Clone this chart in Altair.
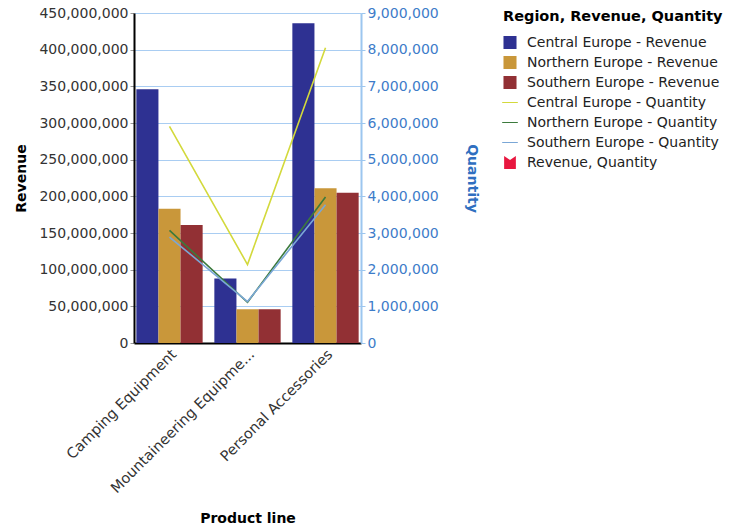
import altair as alt
import pandas as pd

# ---------------- data ----------------
products = ["Camping Equipment", "Mountaineering Equipment", "Personal Accessories"]
regions = ["Central Europe", "Northern Europe", "Southern Europe"]

revenue_central = [346_000_000, 88_000_000, 436_000_000]
revenue_northern = [183_000_000, 46_000_000, 211_000_000]
revenue_southern = [161_000_000, 46_000_000, 205_000_000]

quantity_central = [5_910_000, 2_140_000, 8_050_000]
quantity_northern = [3_070_000, 1_110_000, 3_980_000]
quantity_southern = [2_890_000, 1_130_000, 3_770_000]

series_names = [
    "Central Europe - Revenue",
    "Northern Europe - Revenue",
    "Southern Europe - Revenue",
    "Central Europe - Quantity",
    "Northern Europe - Quantity",
    "Southern Europe - Quantity",
    "Revenue, Quantity",
]
series_colors = ["#2e3192", "#c9973a", "#923034", "#d3d93c", "#3b7a3c", "#7aa7d6", "#e8173f"]

SQUARE = "M-1,-1H1V1H-1Z"
LINE = "M-1.2,-0.08H1.2V0.08H-1.2Z"
RIBBON = "M-0.9,-1L0,-0.4L0.9,-1V1H-0.9Z"
series_shapes = [SQUARE, SQUARE, SQUARE, LINE, LINE, LINE, RIBBON]

revenue_by_region = [revenue_central, revenue_northern, revenue_southern]
quantity_by_region = [quantity_central, quantity_northern, quantity_southern]

rev_rows, qty_rows = [], []
for r, region in enumerate(regions):
    for p, product in enumerate(products):
        rev_rows.append({"product": product, "region": region,
                         "series": f"{region} - Revenue", "revenue": revenue_by_region[r][p]})
        qty_rows.append({"product": product, "region": region,
                         "series": f"{region} - Quantity", "quantity": quantity_by_region[r][p]})
rev_df = pd.DataFrame(rev_rows)
qty_df = pd.DataFrame(qty_rows)
legend_df = pd.DataFrame({"series": series_names})

FONT = "DejaVu Sans"
color_scale = alt.Scale(domain=series_names, range=series_colors)
shape_scale = alt.Scale(domain=series_names, range=series_shapes)

x_enc = alt.X(
    "product:N",
    sort=products,
    scale=alt.Scale(paddingInner=0.15, paddingOuter=0.03),
    axis=alt.Axis(
        title="Product line",
        labelAngle=-45,
        labelAlign="right",
        labelBaseline="top",
        labelExpr="length(datum.label) > 22 ? substring(datum.label, 0, 22) + '...' : datum.label",
        labelFontSize=14.5,
        labelColor="#333333",
        labelPadding=4,
        labelLimit=300,
        tickSize=0,
        domainColor="#000000",
        domainWidth=2,
        titleFontSize=14,
        titleFontWeight="bold",
        titleColor="#000000",
        titlePadding=16,
    ),
)

bars = alt.Chart(rev_df).mark_bar().encode(
    x=x_enc,
    xOffset=alt.XOffset("region:N", sort=regions,
                        scale=alt.Scale(paddingInner=0, paddingOuter=0)),
    y=alt.Y(
        "revenue:Q",
        scale=alt.Scale(domain=[0, 450_000_000], nice=False),
        axis=alt.Axis(
            title="Revenue",
            tickCount=9,
            format=",d",
            labelFontSize=14,
            labelColor="#333333",
            labelPadding=2,
            tickSize=4,
            tickColor="#999999",
            domainColor="#000000",
            domainWidth=2,
            grid=True,
            gridColor="#a9cdf2",
            gridWidth=1,
            titleFontSize=14,
            titleFontWeight="bold",
            titleColor="#000000",
            titlePadding=10,
        ),
    ),
    color=alt.Color("series:N", scale=color_scale, legend=None),
)

lines = alt.Chart(qty_df).mark_line(strokeWidth=1.6).encode(
    x=x_enc,
    y=alt.Y(
        "quantity:Q",
        scale=alt.Scale(domain=[0, 9_000_000], nice=False),
        axis=alt.Axis(
            title="Quantity",
            orient="right",
            tickCount=9,
            format=",d",
            labelFontSize=14,
            labelColor="#3d7cc9",
            labelPadding=2,
            tickSize=4,
            tickColor="#9cc6ef",
            domainColor="#9cc6ef",
            domainWidth=2,
            grid=False,
            titleFontSize=14,
            titleFontWeight="bold",
            titleColor="#2f6fc0",
            titlePadding=26,
        ),
    ),
    color=alt.Color("series:N", scale=color_scale, legend=None),
    detail="region:N",
)

legend_props = dict(
    title="Region, Revenue, Quantity",
    orient="none",
    legendX=369,
    legendY=-3,
    titleFontSize=14.5,
    titleFontWeight="bold",
    titleColor="#000000",
    titlePadding=11,
    titleLimit=400,
    labelFontSize=14,
    labelColor="#222222",
    labelLimit=400,
    labelOffset=10,
    symbolSize=170,
    symbolStrokeWidth=0,
    rowPadding=6,
    padding=0,
)

legend_layer = alt.Chart(legend_df).mark_point(filled=True, opacity=1).encode(
    color=alt.Color("series:N", scale=color_scale, legend=alt.Legend(**legend_props)),
    shape=alt.Shape("series:N", scale=shape_scale, legend=alt.Legend(**legend_props)),
).transform_filter("false")

chart = (
    alt.layer(bars, lines, legend_layer)
    .resolve_scale(y="independent", color="independent", shape="independent")
    .resolve_legend(color="independent", shape="independent")
    .properties(
        width=227,
        height=330,
        autosize=alt.AutoSizeParams(type="none"),
        padding={"left": 134, "top": 13, "right": 371, "bottom": 186},
        background="white",
    )
    .configure(font=FONT)
    .configure_view(stroke=None)
)

chart.save("out.html", embed_options={"renderer": "svg", "actions": False})
